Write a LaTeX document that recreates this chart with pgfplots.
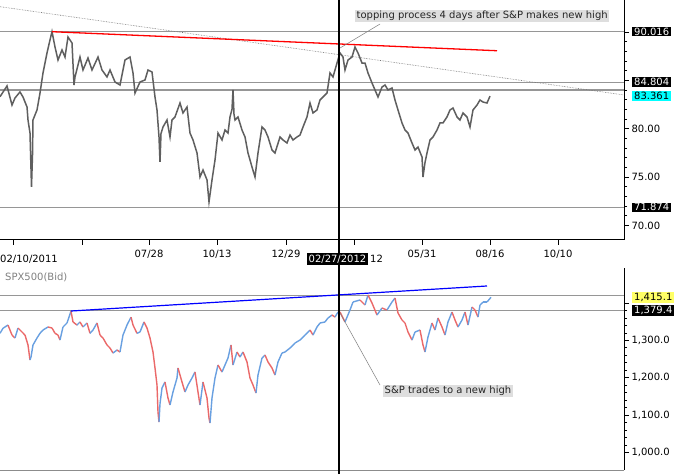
\documentclass[border=0pt]{standalone}
\usepackage{pgfplots}
\pgfplotsset{compat=1.18}
\usepackage{fontspec}
\setmainfont{DejaVu Sans}
\definecolor{bargray}{RGB}{95,95,95}
\definecolor{hline}{RGB}{150,150,150}
\definecolor{boxgray}{RGB}{222,222,222}
\definecolor{cyanbox}{RGB}{0,255,255}
\definecolor{yelbox}{RGB}{255,255,102}
\pgfplotsset{colormap={rb}{rgb255=(235,105,105) rgb255=(105,160,225)}}
\pgfplotsset{every tick label/.append style={font=\fontsize{10}{12}\selectfont}}
\begin{document}
\begin{tikzpicture}[x=1pt,y=1pt]
\useasboundingbox (0,0) rectangle (680,474);
\fill[white] (0,0) rectangle (680,474);
% ---------------- top panel ----------------
\begin{axis}[
  at={(0pt,234pt)}, anchor=south west,
  scale only axis, width=624pt, height=240pt,
  xmin=0, xmax=624, ymin=68.5, ymax=93.29,
  axis x line*=bottom, axis y line*=right,
  axis line style={black, line width=1pt},
  clip mode=individual,
  tick align=outside,
  major tick length=5pt, minor tick length=3pt,
  tick style={black, line width=0.6pt},
  xtick={13,82,149,217,286,354,422,490,558},
  xticklabels={,,07/28,10/13,12/29,,05/31,08/16,10/10},
  minor x tick num=4,
  xticklabel style={yshift=-2pt},
  ytick={70,75,80,85,90},
  yticklabels={70.00,75.00,80.00,,},
  minor y tick num=4,
  yticklabel style={anchor=west, xshift=-1pt},
]
% reference lines
\addplot[hline, line width=1.2pt] coordinates {(0,90.016) (624,90.016)};
\addplot[hline, line width=1.2pt] coordinates {(0,84.804) (624,84.804)};
\addplot[hline, line width=1.2pt] coordinates {(0,83.99) (624,83.99)};
\addplot[hline, line width=1.2pt] coordinates {(0,71.874) (624,71.874)};
\addplot[black!55, densely dotted, line width=0.6pt] coordinates {(0,92.60) (624,83.48)};
% price series
\addplot[bargray, line width=1.5pt] table {
x y
0 83.30
7 84.41
12 82.44
15 83.17
20 83.79
23 83.27
27 82.24
28 80.90
30 79.55
31.5 74.00
32.5 77.28
33 80.90
37 81.93
40 83.68
43 85.75
47 87.82
50 89.16
52 90.02
55 88.44
58 87.09
62 88.13
65 87.40
68 89.47
72 88.85
74 84.51
75 85.34
80 87.40
83 86.06
88 87.30
92 86.06
98 87.40
102 86.06
107 85.34
110 86.06
115 84.82
120 84.51
125 87.09
130 87.40
133 85.75
135 83.68
140 84.82
145 85.03
148 86.06
152 85.85
155 83.27
157 81.93
159 79.14
160 76.56
161 79.50
163 80.17
167 80.90
170 79.14
172 80.90
175 81.21
180 82.65
183 81.62
187 82.24
190 79.55
193 78.83
197 77.49
200 75.01
203 75.73
207 74.70
209 72.43
212 74.70
215 76.76
218 79.55
222 78.83
225 79.86
228 79.55
230 81.21
232 82.00
233 84.00
234 81.50
235 80.90
238 81.21
242 79.86
245 79.14
248 77.49
252 76.04
255 75.01
258 77.49
262 80.17
265 79.86
268 79.14
272 77.80
275 77.49
280 79.14
283 78.83
287 78.52
290 79.34
293 78.83
297 79.14
300 79.34
303 80.17
307 81.21
310 82.65
313 81.62
317 81.93
320 82.96
323 83.27
327 83.68
330 85.75
333 85.34
337 86.78
340 87.82
343 87.40
345 86.06
348 87.09
352 87.40
355 88.44
358 87.82
362 86.78
365 86.78
368 85.75
372 84.72
375 84.00
378 83.27
382 84.30
385 84.51
388 84.00
392 84.20
395 82.96
398 81.93
402 80.59
405 79.86
408 79.55
412 78.52
415 77.80
418 78.10
422 77.07
423 75.01
425 76.50
427 77.49
430 78.83
433 79.14
437 79.86
440 80.59
443 80.59
447 81.21
450 81.93
453 82.13
457 81.21
460 80.90
463 81.62
467 81.21
470 80.17
473 81.93
477 82.44
480 82.96
483 82.75
487 82.65
490 83.36
};
\addplot[red, line width=1.3pt] coordinates {(52,90.016) (497,88.05)};
% annotation
\draw[black!50, line width=0.5pt] (axis cs:340,88.33) -- (axis cs:380,90.81);
\node[fill=boxgray, text=black!85, anchor=west, inner sep=1.5pt, font=\fontsize{10}{12}\selectfont] at (axis cs:355,91.64) {topping process 4 days after S\&P makes new high};
% price boxes on the right
\node[fill=black, text=white, anchor=west, inner xsep=2pt, inner ysep=1pt, font=\fontsize{10}{12}\selectfont] at (axis cs:624,90.016) [xshift=8pt] {90.016};
\node[fill=black, text=white, anchor=west, inner xsep=2pt, inner ysep=1pt, font=\fontsize{10}{12}\selectfont] at (axis cs:624,84.804) [xshift=8pt] {84.804};
\node[fill=cyanbox, text=black, anchor=west, inner xsep=2pt, inner ysep=1pt, font=\fontsize{10}{12}\selectfont] at (axis cs:624,83.36) [xshift=8pt] {83.361};
\node[fill=black, text=white, anchor=west, inner xsep=2pt, inner ysep=1pt, font=\fontsize{10}{12}\selectfont] at (axis cs:624,71.874) [xshift=8pt] {71.874};
\end{axis}
% ---------------- bottom panel ----------------
\begin{axis}[
  at={(0pt,4pt)}, anchor=south west,
  scale only axis, width=624pt, height=202pt,
  xmin=0, xmax=624, ymin=952.6, ymax=1493.6,
  axis x line*=bottom, axis y line*=right,
  axis line style={black, line width=1pt},
  x axis line style={black!45},
  clip mode=individual,
  tick align=outside,
  major tick length=5pt, minor tick length=3pt,
  tick style={black, line width=0.6pt},
  xtick=\empty,
  ytick={1000,1100,1200,1300,1400},
  yticklabels={{1,000.0},{1,100.0},{1,200.0},{1,300.0},{}},
  minor y tick num=4,
  yticklabel style={anchor=west, xshift=-1pt},
  point meta min=0, point meta max=1,
]
\addplot[hline, line width=1.2pt] coordinates {(0,1419) (624,1419)};
\addplot[hline, line width=1.2pt] coordinates {(0,1379.4) (624,1379.4)};
\addplot[mesh, shader=flat corner, point meta=explicit, line width=1.4pt] table[x=x, y=y, meta=c] {
x y c
0 1318.7 1
3 1332.1 1
8 1340.9 0
12 1314.1 0
15 1306.1 1
18 1332.9 0
22 1322.2 0
25 1314.1 0
28 1287.4 0
30 1247.2 1
31 1255.2 1
33 1287.4 1
37 1306.1 1
40 1318.7 1
43 1327.5 1
48 1335.6 0
52 1332.9 0
55 1318.7 0
58 1314.1 0
60 1300.7 1
63 1335.6 1
67 1346.3 1
71 1378.0 0
73 1349.0 0
77 1340.9 1
80 1349.0 0
83 1335.6 1
87 1346.3 0
90 1318.7 1
93 1327.5 1
97 1346.3 0
100 1314.1 0
103 1306.1 0
107 1287.4 0
110 1279.3 0
113 1265.9 1
117 1274.0 0
120 1268.6 1
123 1314.1 1
127 1340.9 1
131 1362.0 0
133 1340.9 0
137 1318.7 1
140 1322.2 1
144 1349.0 0
147 1332.9 0
150 1306.1 0
153 1268.6 0
155 1225.8 0
157 1180.2 0
158 1107.9 0
159 1081.1 1
160 1130.0 1
162 1172.2 1
165 1188.3 0
168 1145.4 0
170 1126.7 1
173 1161.5 1
177 1199.0 1
178 1225.8 0
182 1188.3 0
185 1161.5 1
188 1180.2 1
192 1199.0 1
195 1215.1 0
198 1161.5 0
200 1126.7 1
203 1188.3 0
207 1145.4 0
209 1091.9 0
210 1078.5 1
212 1145.4 1
215 1199.0 1
218 1233.8 0
222 1215.1 1
225 1233.8 1
228 1252.5 1
231 1287.4 0
233 1233.8 1
237 1268.6 0
240 1255.2 1
243 1268.6 0
247 1241.8 0
250 1199.0 0
253 1180.2 0
256 1158.8 1
258 1207.0 1
262 1252.5 1
265 1260.6 0
268 1241.8 0
272 1225.8 0
275 1207.0 1
278 1241.8 1
282 1265.9 1
285 1268.6 1
290 1279.3 1
295 1292.7 1
300 1300.7 1
305 1314.1 1
310 1327.5 0
313 1314.1 1
317 1335.6 1
320 1346.3 1
325 1349.0 1
328 1359.7 1
332 1367.7 0
335 1362.3 1
338 1375.7 1
340 1375.7 0
345 1349.0 1
350 1381.1 1
353 1402.5 1
360 1407.9 0
365 1394.5 1
368 1421.3 0
372 1399.8 0
377 1367.7 1
382 1386.4 0
387 1381.1 1
392 1402.5 1
395 1413.2 0
398 1373.1 0
402 1354.3 0
405 1346.3 0
408 1322.2 0
412 1300.7 1
415 1322.2 1
420 1327.5 0
423 1287.4 0
425 1268.6 1
428 1308.8 1
432 1346.3 0
435 1327.5 1
438 1359.7 0
442 1335.6 0
445 1314.1 1
448 1349.0 1
452 1375.7 0
455 1354.3 0
458 1335.6 1
462 1354.3 1
465 1375.7 0
468 1340.9 1
472 1389.1 0
475 1381.1 0
478 1362.3 1
480 1394.5 1
483 1402.5 1
487 1402.5 1
491 1415.1 1
};
\addplot[blue, line width=1.2pt] coordinates {(71,1378.4) (487,1445.4)};
\draw[black!50, line width=0.5pt] (axis cs:340,1373.1) -- (axis cs:380,1180.2);
\node[fill=boxgray, text=black!85, anchor=west, inner sep=1.5pt, font=\fontsize{10}{12}\selectfont] at (axis cs:383,1164.3) {S\&P trades to a new high};
\node[fill=yelbox, text=black, anchor=west, inner xsep=2pt, inner ysep=1pt, font=\fontsize{10}{12}\selectfont] at (axis cs:624,1415.1) [xshift=8pt] {1,415.1};
\node[fill=black, text=white, anchor=west, inner xsep=2pt, inner ysep=1pt, font=\fontsize{10}{12}\selectfont] at (axis cs:624,1379.4) [xshift=8pt] {1,379.4};
\end{axis}
% shared annotations
\draw[black, line width=1.1pt] (339,0) -- (339,474);
\node[anchor=west, inner sep=0pt, font=\fontsize{10}{12}\selectfont] at (0,215) {02/10/2011};
\node[anchor=west, inner sep=0pt, font=\fontsize{10}{12}\selectfont] at (370,215) {12};
\node[fill=black, text=white, inner xsep=2pt, inner ysep=1.5pt, font=\fontsize{10}{12}\selectfont] at (337.5,215) {02/27/2012};
\node[anchor=west, inner sep=0pt, text=black!50, font=\fontsize{10}{12}\selectfont] at (5,197) {SPX500(Bid)};
\end{tikzpicture}
\end{document}
